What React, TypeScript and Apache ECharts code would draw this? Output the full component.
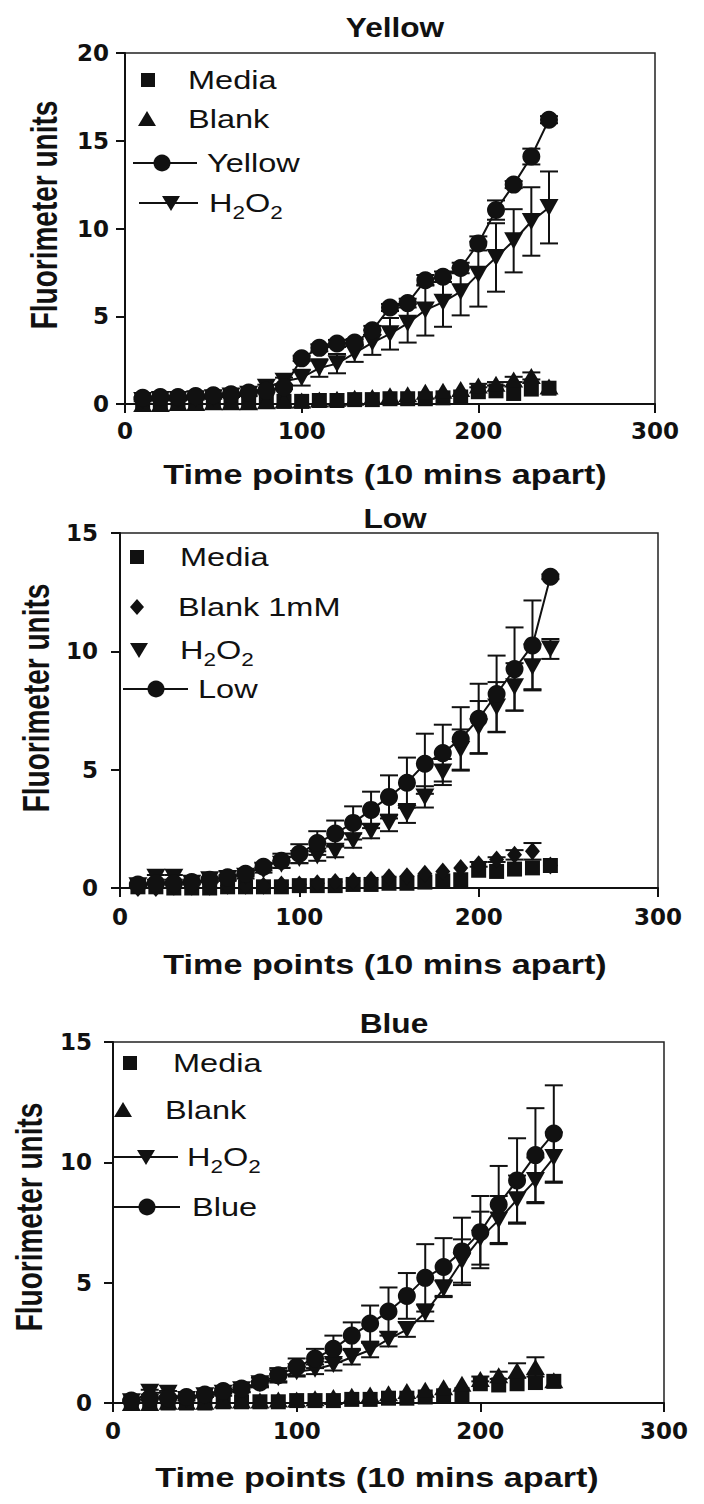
import { useEffect, useRef } from "react";
import * as echarts from "echarts";

// ---------------- data ----------------
const timePoints = [10, 20, 30, 40, 50, 60, 70, 80, 90, 100, 110, 120, 130, 140, 150, 160, 170, 180, 190, 200, 210, 220, 230, 240];

const xTicks = [0, 100, 200, 300];
const yellowYTicks = [0, 5, 10, 15, 20];
const lowYTicks = [0, 5, 10, 15];
const blueYTicks = [0, 5, 10, 15];

// Panel "Yellow"
const yellowMedia = [0.05, 0.05, 0.05, 0.1, 0.1, 0.1, 0.1, 0.15, 0.15, 0.15, 0.2, 0.2, 0.25, 0.25, 0.3, 0.3, 0.3, 0.35, 0.4, 0.7, 0.75, 0.6, 0.85, 0.9];
const yellowBlank = [0.0, 0.0, 0.05, 0.05, 0.1, 0.1, 0.1, 0.15, 0.2, 0.2, 0.25, 0.3, 0.35, 0.4, 0.5, 0.55, 0.7, 0.75, 0.85, 1.05, 1.15, 1.4, 1.6, 1.0];
const yellowBlankErr = [0, 0, 0, 0, 0, 0, 0, 0, 0, 0, 0, 0, 0, 0, 0, 0, 0, 0, 0, 0.1, 0.1, 0.15, 0.2, 0];
const yellowSample = [0.35, 0.4, 0.4, 0.45, 0.5, 0.55, 0.65, 0.75, 0.95, 2.6, 3.2, 3.45, 3.5, 4.2, 5.5, 5.75, 7.05, 7.25, 7.75, 9.15, 11.05, 12.5, 14.1, 16.2];
const yellowSampleErr = [0.05, 0.05, 0.05, 0.05, 0.05, 0.05, 0.05, 0.05, 0.1, 0.15, 0.2, 0.2, 0.2, 0.25, 0.2, 0.25, 0.3, 0.3, 0.3, 0.4, 0.55, 0.2, 0.45, 0.2];
const yellowH2O2 = [0.2, 0.25, 0.25, 0.3, 0.35, 0.45, 0.55, 0.95, 1.3, 1.5, 2.05, 2.3, 2.9, 3.5, 4.0, 4.6, 5.35, 5.8, 6.4, 7.4, 8.35, 9.3, 10.4, 11.2];
const yellowH2O2Err = [0.05, 0.05, 0.05, 0.05, 0.05, 0.05, 0.1, 0.15, 0.2, 0.45, 0.5, 0.55, 0.5, 0.7, 0.9, 1.1, 1.45, 1.4, 1.35, 1.85, 1.95, 1.8, 1.95, 2.05];

// Panel "Low"
const lowMedia = [0.05, 0.05, 0.0, 0.0, 0.0, 0.05, 0.05, 0.05, 0.05, 0.1, 0.1, 0.1, 0.15, 0.15, 0.2, 0.2, 0.25, 0.3, 0.35, 0.75, 0.7, 0.8, 0.85, 0.95];
const lowBlank = [0.0, 0.0, 0.05, 0.05, 0.05, 0.1, 0.1, 0.1, 0.15, 0.15, 0.2, 0.25, 0.3, 0.35, 0.45, 0.5, 0.6, 0.7, 0.85, 1.0, 1.2, 1.4, 1.55, 0.95];
const lowBlankErr = [0, 0, 0, 0, 0, 0, 0, 0, 0, 0, 0, 0, 0, 0, 0, 0, 0, 0, 0, 0.1, 0.1, 0.2, 0.35, 0];
const lowH2O2 = [0.1, 0.45, 0.45, 0.2, 0.35, 0.4, 0.5, 0.75, 1.0, 1.25, 1.35, 1.55, 2.0, 2.4, 2.75, 3.15, 3.85, 4.9, 5.85, 6.8, 7.65, 8.5, 9.35, 10.1];
const lowH2O2Err = [0.05, 0.1, 0.1, 0.05, 0.05, 0.1, 0.1, 0.1, 0.15, 0.2, 0.2, 0.25, 0.3, 0.3, 0.35, 0.4, 0.45, 0.55, 0.85, 1.1, 1.05, 1.0, 0.95, 0.42];
const lowSample = [0.15, 0.2, 0.2, 0.25, 0.35, 0.45, 0.6, 0.9, 1.15, 1.45, 1.9, 2.3, 2.75, 3.3, 3.85, 4.45, 5.25, 5.7, 6.3, 7.15, 8.2, 9.25, 10.25, 13.15];
const lowSampleErr = [0.05, 0.05, 0.05, 0.05, 0.1, 0.1, 0.1, 0.15, 0.3, 0.4, 0.5, 0.55, 0.7, 0.77, 0.91, 1.06, 1.27, 1.2, 1.34, 1.48, 1.62, 1.76, 1.9, 0.1];

// Panel "Blue"
const blueMedia = [0.05, 0.05, 0.0, 0.0, 0.0, 0.05, 0.05, 0.05, 0.05, 0.1, 0.1, 0.1, 0.15, 0.15, 0.2, 0.2, 0.25, 0.3, 0.35, 0.8, 0.75, 0.8, 0.85, 0.9];
const blueBlank = [0.0, 0.0, 0.05, 0.05, 0.05, 0.1, 0.1, 0.1, 0.15, 0.15, 0.2, 0.25, 0.3, 0.35, 0.4, 0.5, 0.55, 0.65, 0.8, 1.0, 1.15, 1.35, 1.5, 0.95];
const blueBlankErr = [0, 0, 0, 0, 0, 0, 0, 0, 0, 0, 0, 0, 0, 0, 0, 0, 0, 0, 0, 0.1, 0.15, 0.3, 0.4, 0];
const blueH2O2 = [0.05, 0.45, 0.4, 0.15, 0.3, 0.4, 0.55, 0.8, 1.05, 1.3, 1.4, 1.6, 1.9, 2.2, 2.65, 3.05, 3.75, 4.75, 5.9, 6.85, 7.6, 8.45, 9.25, 10.2];
const blueH2O2Err = [0.05, 0.1, 0.1, 0.05, 0.05, 0.1, 0.1, 0.1, 0.15, 0.2, 0.2, 0.25, 0.3, 0.3, 0.3, 0.3, 0.35, 0.35, 0.9, 1.1, 1.0, 1.0, 0.95, 1.05];
const blueSample = [0.1, 0.2, 0.2, 0.25, 0.35, 0.5, 0.6, 0.85, 1.15, 1.5, 1.85, 2.25, 2.8, 3.3, 3.8, 4.45, 5.2, 5.65, 6.3, 7.1, 8.25, 9.25, 10.3, 11.2];
const blueSampleErr = [0.05, 0.05, 0.05, 0.05, 0.1, 0.1, 0.15, 0.2, 0.3, 0.35, 0.4, 0.55, 0.55, 0.75, 1.0, 0.95, 1.4, 1.2, 1.4, 1.5, 1.6, 1.75, 1.95, 2.0];

// ---------------- styling / layout ----------------
const INK = "#111";
const SANS = '"Liberation Sans", Arial, Helvetica, sans-serif';
const TICKFONT = '"DejaVu Sans", "Liberation Sans", sans-serif';

type LegendItem = {
  kind: "rect" | "triUp" | "triDown" | "diamond" | "circle";
  cx: number;
  cy: number;
  line?: [number, number];
  text: string;
  tx: number;
  sub?: boolean;
};

const panels = [
  {
    title: "Yellow",
    grid: { left: 125, top: 53, width: 530, height: 351 },
    yTicks: yellowYTicks,
    media: yellowMedia,
    blank: yellowBlank,
    blankErr: yellowBlankErr,
    blankSymbol: "triangle",
    h2o2: yellowH2O2,
    h2o2Err: yellowH2O2Err,
    h2o2Line: true,
    sample: yellowSample,
    sampleErr: yellowSampleErr,
    xLabelMargin: 15,
    yLabelMargin: 16,
    titlePos: [395, 27],
    xTitlePos: [385, 475],
    yTitlePos: [45, 215],
    legend: [
      { kind: "rect", cx: 148, cy: 80, text: "Media", tx: 188 },
      { kind: "triUp", cx: 147, cy: 119, text: "Blank", tx: 188 },
      { kind: "circle", cx: 162, cy: 163, line: [133, 197], text: "Yellow", tx: 207 },
      { kind: "triDown", cx: 171, cy: 203, line: [139, 198], text: "H2O2", tx: 209, sub: true },
    ] as LegendItem[],
  },
  {
    title: "Low",
    grid: { left: 120, top: 533, width: 538, height: 355 },
    yTicks: lowYTicks,
    media: lowMedia,
    blank: lowBlank,
    blankErr: lowBlankErr,
    blankSymbol: "diamond",
    h2o2: lowH2O2,
    h2o2Err: lowH2O2Err,
    h2o2Line: false,
    sample: lowSample,
    sampleErr: lowSampleErr,
    xLabelMargin: 17,
    yLabelMargin: 22,
    titlePos: [395, 518],
    xTitlePos: [385, 965],
    yTitlePos: [37, 698],
    legend: [
      { kind: "rect", cx: 137, cy: 557, text: "Media", tx: 180 },
      { kind: "diamond", cx: 137, cy: 607, text: "Blank 1mM", tx: 178 },
      { kind: "triDown", cx: 139, cy: 650, text: "H2O2", tx: 180, sub: true },
      { kind: "circle", cx: 156, cy: 689, line: [123, 188], text: "Low", tx: 198 },
    ] as LegendItem[],
  },
  {
    title: "Blue",
    grid: { left: 113, top: 1042, width: 551, height: 361 },
    yTicks: blueYTicks,
    media: blueMedia,
    blank: blueBlank,
    blankErr: blueBlankErr,
    blankSymbol: "triangle",
    h2o2: blueH2O2,
    h2o2Err: blueH2O2Err,
    h2o2Line: true,
    sample: blueSample,
    sampleErr: blueSampleErr,
    xLabelMargin: 16,
    yLabelMargin: 21,
    titlePos: [394, 1023],
    xTitlePos: [377, 1478],
    yTitlePos: [30, 1217],
    legend: [
      { kind: "rect", cx: 130, cy: 1063, text: "Media", tx: 173 },
      { kind: "triUp", cx: 123, cy: 1110, text: "Blank", tx: 165 },
      { kind: "triDown", cx: 146, cy: 1157, line: [113, 178], text: "H2O2", tx: 187, sub: true },
      { kind: "circle", cx: 147, cy: 1207, line: [113, 180], text: "Blue", tx: 192 },
    ] as LegendItem[],
  },
];

const pairs = (ys: number[]) => timePoints.map((t, i) => [t, ys[i]]);
const triples = (ys: number[], es: number[]) => timePoints.map((t, i) => [t, ys[i], es[i]]);

const errRender = (_params: any, api: any) => {
  const x = api.value(0);
  const y = api.value(1);
  const e = api.value(2);
  if (!e) return null;
  const top = api.coord([x, y + e]);
  const bot = api.coord([x, y - e]);
  const cw = 9;
  const st = { stroke: INK, lineWidth: 2 };
  return {
    type: "group",
    children: [
      { type: "line", shape: { x1: top[0], y1: top[1], x2: bot[0], y2: bot[1] }, style: st },
      { type: "line", shape: { x1: top[0] - cw, y1: top[1], x2: top[0] + cw, y2: top[1] }, style: st },
      { type: "line", shape: { x1: bot[0] - cw, y1: bot[1], x2: bot[0] + cw, y2: bot[1] }, style: st },
    ],
  };
};

function legendGraphics(items: LegendItem[]) {
  const out: any[] = [];
  for (const it of items) {
    const { cx, cy } = it;
    if (it.line) {
      out.push({ type: "line", shape: { x1: it.line[0], y1: cy, x2: it.line[1], y2: cy }, style: { stroke: INK, lineWidth: 2 } });
    }
    if (it.kind === "rect") {
      out.push({ type: "rect", shape: { x: cx - 7, y: cy - 7, width: 14, height: 14 }, style: { fill: INK } });
    } else if (it.kind === "triUp") {
      out.push({ type: "polygon", shape: { points: [[cx - 9, cy + 7], [cx + 9, cy + 7], [cx, cy - 8]] }, style: { fill: INK } });
    } else if (it.kind === "triDown") {
      out.push({ type: "polygon", shape: { points: [[cx - 9, cy - 7], [cx + 9, cy - 7], [cx, cy + 8]] }, style: { fill: INK } });
    } else if (it.kind === "diamond") {
      out.push({ type: "polygon", shape: { points: [[cx, cy - 8], [cx + 7, cy], [cx, cy + 8], [cx - 7, cy]] }, style: { fill: INK } });
    } else {
      out.push({ type: "circle", shape: { cx, cy, r: 8.5 }, style: { fill: INK } });
    }
    if (it.sub) {
      out.push({
        type: "text",
        x: it.tx,
        y: cy,
        scaleX: 1.25,
        style: {
          text: "{n|H}{s|2}{n|O}{s|2}",
          rich: {
            n: { fontSize: 26, fontFamily: SANS, lineHeight: 40, fill: INK },
            s: { fontSize: 18, fontFamily: SANS, lineHeight: 18, padding: [20, 0, 0, 0], fill: INK },
          },
          fill: INK,
          align: "left",
          verticalAlign: "middle",
          textAlign: "left",
          textVerticalAlign: "middle",
        },
      });
    } else {
      out.push({
        type: "text",
        x: it.tx,
        y: cy,
        scaleX: 1.25,
        style: {
          text: it.text,
          fontSize: 26,
          fontFamily: SANS,
          fill: INK,
          align: "left",
          verticalAlign: "middle",
          textAlign: "left",
          textVerticalAlign: "middle",
        },
      });
    }
  }
  return out;
}

function titleText(text: string, x: number, y: number, scaleX: number, rotate = false) {
  return {
    type: "text",
    x,
    y,
    rotation: rotate ? Math.PI / 2 : 0,
    scaleX: rotate ? 1 : scaleX,
    scaleY: rotate ? scaleX : 1,
    style: {
      text,
      fontSize: 28,
      fontWeight: "bold",
      fontFamily: SANS,
      fill: INK,
      align: "center",
      verticalAlign: "middle",
      textAlign: "center",
      textVerticalAlign: "middle",
    },
  };
}

function buildOption() {
  const grid: any[] = [];
  const xAxis: any[] = [];
  const yAxis: any[] = [];
  const series: any[] = [];
  const graphic: any[] = [];

  panels.forEach((p, i) => {
    grid.push({
      ...p.grid,
      show: true,
      borderColor: "#222",
      borderWidth: 1.5,
      backgroundColor: "transparent",
      containLabel: false,
      outerBoundsMode: "none",
    });
    xAxis.push({
      type: "value",
      gridIndex: i,
      min: xTicks[0],
      max: xTicks[xTicks.length - 1],
      interval: xTicks[1] - xTicks[0],
      axisLine: { show: true, onZero: false, lineStyle: { color: INK, width: 2 } },
      axisTick: { show: true, inside: false, length: 9, lineStyle: { color: INK, width: 2 } },
      axisLabel: { fontFamily: TICKFONT, fontWeight: "bold", fontSize: 23, color: INK, margin: p.xLabelMargin },
      splitLine: { show: false },
    });
    yAxis.push({
      type: "value",
      gridIndex: i,
      min: p.yTicks[0],
      max: p.yTicks[p.yTicks.length - 1],
      interval: p.yTicks[1] - p.yTicks[0],
      axisLine: { show: true, onZero: false, lineStyle: { color: INK, width: 2 } },
      axisTick: { show: true, inside: false, length: 9, lineStyle: { color: INK, width: 2 } },
      axisLabel: { fontFamily: TICKFONT, fontWeight: "bold", fontSize: 23, color: INK, margin: p.yLabelMargin },
      splitLine: { show: false },
    });

    const common = { xAxisIndex: i, yAxisIndex: i, silent: true };
    const solid = { color: INK, opacity: 1 };
    // error bars
    series.push({ ...common, type: "custom", renderItem: errRender, data: triples(p.blank, p.blankErr), encode: { x: 0, y: 1 }, z: 1 });
    series.push({ ...common, type: "custom", renderItem: errRender, data: triples(p.h2o2, p.h2o2Err), encode: { x: 0, y: 1 }, z: 1 });
    series.push({ ...common, type: "custom", renderItem: errRender, data: triples(p.sample, p.sampleErr), encode: { x: 0, y: 1 }, z: 1 });

    series.push({
      ...common,
      name: "Media",
      type: "scatter",
      symbol: "rect",
      symbolSize: 15,
      itemStyle: solid,
      data: pairs(p.media),
      z: 3,
    });
    series.push({
      ...common,
      name: "Blank",
      type: "scatter",
      symbol: p.blankSymbol,
      symbolSize: p.blankSymbol === "diamond" ? [15, 18] : [19, 16],
      itemStyle: solid,
      data: pairs(p.blank),
      z: 3,
    });
    if (p.h2o2Line) {
      series.push({
        ...common,
        name: "H2O2",
        type: "line",
        symbol: "triangle",
        symbolRotate: 180,
        symbolSize: [19, 17],
        showSymbol: true,
        showAllSymbol: true,
        lineStyle: { color: INK, width: 2 },
        itemStyle: solid,
        data: pairs(p.h2o2),
        z: 4,
      });
    } else {
      series.push({
        ...common,
        name: "H2O2",
        type: "scatter",
        symbol: "triangle",
        symbolRotate: 180,
        symbolSize: [19, 17],
        itemStyle: solid,
        data: pairs(p.h2o2),
        z: 4,
      });
    }
    series.push({
      ...common,
      name: p.title,
      type: "line",
      symbol: "circle",
      symbolSize: 18,
      showSymbol: true,
      showAllSymbol: true,
      lineStyle: { color: INK, width: 2 },
      itemStyle: solid,
      data: pairs(p.sample),
      z: 5,
    });

    graphic.push(titleText(p.title, p.titlePos[0], p.titlePos[1], 1.13));
    graphic.push(titleText("Time points (10 mins apart)", p.xTitlePos[0], p.xTitlePos[1], 1.22));
    graphic.push(titleText("Fluorimeter units", p.yTitlePos[0], p.yTitlePos[1], 1.3, true));
    graphic.push(...legendGraphics(p.legend));
  });

  return {
    animation: false,
    backgroundColor: "#fff",
    grid,
    xAxis,
    yAxis,
    series,
    graphic,
  };
}

export default function App() {
  const ref = useRef<HTMLDivElement>(null);
  useEffect(() => {
    document.body.style.margin = "0";
    document.body.style.overflow = "hidden";
    const chart = echarts.init(ref.current as HTMLDivElement, null, { renderer: "svg" });
    chart.setOption(buildOption() as any);
    return () => chart.dispose();
  }, []);
  return <div ref={ref} style={{ position: "absolute", left: 0, top: 0, width: 704, height: 1504, background: "#fff" }} />;
}
